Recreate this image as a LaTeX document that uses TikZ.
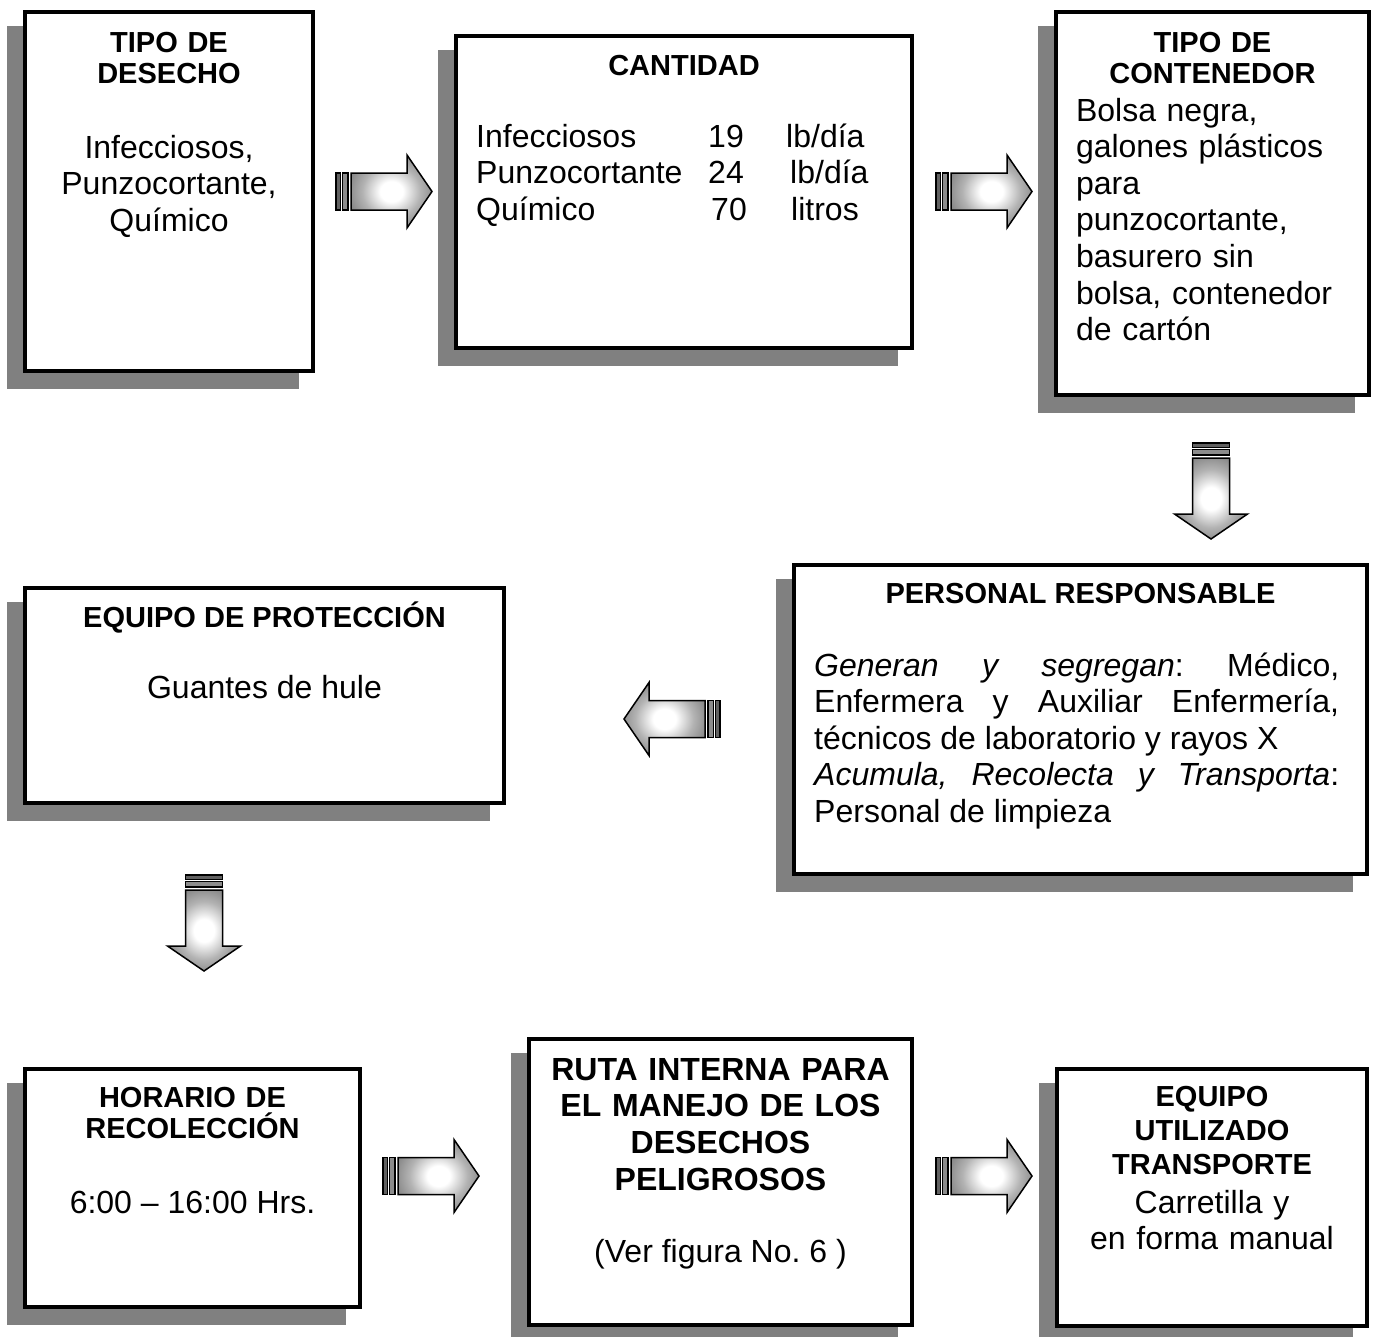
\documentclass[tikz,border=0pt]{standalone}
\usepackage{fontspec}
\setmainfont{Liberation Sans}
\frenchspacing
\pgfdeclareradialshading{arrowglow}{\pgfpoint{0bp}{0bp}}{%
  color(0bp)=(white); color(7bp)=(white); color(18bp)=(black!30); color(30bp)=(black!52); color(45bp)=(black!66); color(70bp)=(black!72)}
\newcommand\bodyfont{\fontsize{32}{36.6}\selectfont}
\newcommand\headfont{\bfseries\fontsize{29}{31.5}\selectfont}
\newcommand\bigheadfont{\bfseries\fontsize{32}{36.7}\selectfont}
\tikzset{
  panel/.style={draw=black, line width=3.5pt, fill=white, rectangle, inner sep=0pt},
  panelshadow/.style={fill=black!50},
  stripedark/.style={draw=black, line width=1.3pt, fill=black!62},
  stripelight/.style={draw=black, line width=1.3pt, fill=black!45},
  arrowbody/.style={draw=black, line width=1.5pt, line join=miter, shade, shading=arrowglow},
  txt/.style={inner sep=0pt, outer sep=0pt, anchor=base},
  ctxt/.style={txt, align=center, text width=#1},
  ltxt/.style={inner sep=0pt, outer sep=0pt, anchor=base west, align=left, text width=#1},
}
% box with its drop shadow: name, x1, y1, x2, y2 (line centres)
\newcommand\panelbox[5]{%
  \fill[panelshadow] (#2-17.75,#3+14.25) rectangle (#4-14.25,#5+17.75);
  \node[panel, minimum width={#4-#2}, minimum height={#5-#3}] (#1) at ({(#2+#4)/2},{(#3+#5)/2}) {};
}
% striped block arrow: tail x, tail y, direction angle
\newcommand\flowarrow[3]{%
  \begin{scope}[shift={(#1,#2)}, rotate=#3]
    \path[stripedark] (0,-18.5) rectangle (4.5,18.5);
    \path[stripelight] (6.5,-18.5) rectangle (12,18.5);
    \path[arrowbody] (15,-18.5) -- (71,-18.5) -- (71,-36.5) -- (96,0) -- (71,36.5) -- (71,18.5) -- (15,18.5) -- cycle;
  \end{scope}}
\begin{document}
\begin{tikzpicture}[x=1pt, y=-1pt]
\useasboundingbox[fill=white] (0,0) rectangle (1376,1336);

% boxes
\panelbox{b1}{25}{12}{313}{371}
\panelbox{b2}{456}{36}{912}{348}
\panelbox{b3}{1056}{12}{1369}{395}
\panelbox{b4}{794}{565}{1367}{874}
\panelbox{b5}{25}{588}{504}{803}
\panelbox{b6}{25}{1069}{360}{1307}
\panelbox{b7}{529}{1039}{912}{1325}
\panelbox{b8}{1057}{1069}{1367}{1326}

% arrows
\flowarrow{336}{191.5}{0}
\flowarrow{936}{191.5}{0}
\flowarrow{1211}{443}{-90}
\flowarrow{720}{719}{180}
\flowarrow{204}{875}{-90}
\flowarrow{383}{1176}{0}
\flowarrow{936}{1176}{0}

% TIPO DE DESECHO
\node[ctxt=280, font=\headfont] (t1h) at (169,52) {TIPO DE\\DESECHO};
\node[ctxt=280, font=\bodyfont] (t1b) at (169,158) {Infecciosos,\\Punzocortante,\\Químico};

% CANTIDAD
\node[txt, font=\headfont] (t2h) at (684,75) {CANTIDAD};
\begin{scope}[every node/.style={inner sep=0pt, anchor=base west, font=\bodyfont}]
  \node (q1a) at (476,147) {Infecciosos};
  \node (q1b) at (708,147) {19};
  \node (q1c) at (786,147) {lb/día};
  \node (q2a) at (476,183.5) {Punzocortante};
  \node (q2b) at (708,183.5) {24};
  \node (q2c) at (790,183.5) {lb/día};
  \node (q3a) at (476,220) {Químico};
  \node (q3b) at (711,220) {70};
  \node (q3c) at (791,220) {litros};
\end{scope}

% TIPO DE CONTENEDOR
\node[ctxt=300, font=\headfont] (t3h) at (1212.5,52) {TIPO DE\\CONTENEDOR};
\node[ltxt=290, font=\bodyfont] (t3b) at (1076,121) {Bolsa negra,\\galones plásticos\\para\\punzocortante,\\basurero sin\\bolsa, contenedor\\de cartón};

% PERSONAL RESPONSABLE
\node[txt, font=\headfont] (t4h) at (1080.5,603) {PERSONAL RESPONSABLE};
\node[inner sep=0pt, anchor=base west, text width=525, align=justify, font=\bodyfont] (t4b) at (814,676)
  {\textit{Generan y segregan}: Médico,\linebreak Enfermera y Auxiliar Enfermería,\linebreak técnicos de laboratorio y rayos X\newline \textit{Acumula, Recolecta y Transporta}:\linebreak Personal de limpieza};

% EQUIPO DE PROTECCION
\node[txt, font=\headfont] (t5h) at (264.5,627) {EQUIPO DE PROTECCIÓN};
\node[txt, font=\bodyfont] (t5b) at (264.5,698) {Guantes de hule};

% HORARIO DE RECOLECCION
\node[ctxt=320, font=\headfont] (t6h) at (192.5,1107) {HORARIO DE\\RECOLECCIÓN};
\node[txt, font=\bodyfont] (t6b) at (192.5,1213) {6:00 – 16:00 Hrs.};

% RUTA INTERNA
\node[ctxt=370, font=\bigheadfont] (t7h) at (720.5,1080) {RUTA INTERNA PARA\\EL MANEJO DE LOS\\DESECHOS\\PELIGROSOS};
\node[txt, font=\bodyfont] (t7b) at (720.5,1262) {(Ver figura No. 6 )};

% EQUIPO UTILIZADO
\node[ctxt=300, font=\bfseries\fontsize{29}{34}\selectfont] (t8h) at (1212,1106) {EQUIPO\\UTILIZADO\\TRANSPORTE};
\node[ctxt=300, font=\bodyfont] (t8b) at (1212,1213) {Carretilla y\\en forma manual};
\end{tikzpicture}
\end{document}
